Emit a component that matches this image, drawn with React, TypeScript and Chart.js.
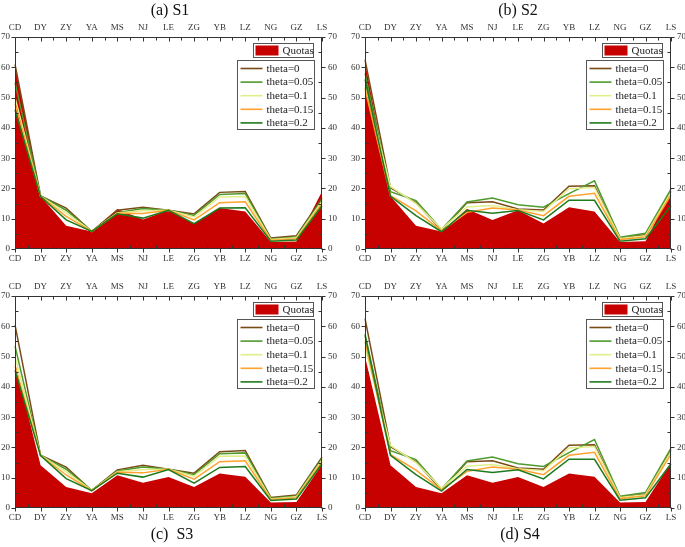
import React, { useEffect, useRef } from 'react';
import { Chart, registerables } from 'chart.js';
Chart.register(...registerables);

const categories = ['CD', 'DY', 'ZY', 'YA', 'MS', 'NJ', 'LE', 'ZG', 'YB', 'LZ', 'NG', 'GZ', 'LS'];
const thetaLabels = ['theta=0', 'theta=0.05', 'theta=0.1', 'theta=0.15', 'theta=0.2'];
const thetaColors = ['#7a4a16', '#4f9a2c', '#e2ee8a', '#ffa22e', '#1d7a1d'];
const quotaColor = '#c70000';
const yTicks = [0, 10, 20, 30, 40, 50, 60, 70];

// S1
const s1Quotas = [61, 17.4, 7.7, 5.8, 13.2, 9.7, 12.8, 8.4, 13.5, 12.4, 2.3, 2.5, 19];
const s1Theta0 = [61, 17.5, 13.5, 5.8, 12.8, 13.8, 12.8, 11.6, 18.7, 19.0, 3.6, 4.4, 16.8];
const s1Theta005 = [55, 17.5, 12.8, 5.8, 12.0, 13.4, 12.8, 11.1, 18.0, 18.3, 3.3, 4.0, 16.3];
const s1Theta01 = [50, 17.4, 11.9, 5.8, 11.9, 12.6, 12.8, 10.6, 17.2, 17.3, 3.1, 3.7, 15.7];
const s1Theta015 = [48, 17.4, 10.8, 5.8, 11.8, 11.7, 12.8, 9.6, 15.3, 15.6, 2.9, 3.4, 15.0];
const s1Theta02 = [46, 17.3, 9.6, 5.8, 11.6, 10.2, 12.8, 8.4, 13.5, 13.6, 2.6, 3.0, 14.3];

// S2
const s2Quotas = [62, 17.4, 7.7, 5.8, 13.2, 9.6, 12.8, 8.4, 13.8, 12.4, 2.3, 2.6, 19.2];
const s2Theta0 = [62.5, 20.2, 15.3, 6.2, 15.3, 15.6, 13.2, 12.9, 20.7, 20.9, 3.6, 4.7, 19.0];
const s2Theta005 = [58, 18.9, 16.0, 6.4, 15.5, 16.8, 14.6, 13.8, 18.3, 22.5, 3.9, 5.2, 19.8];
const s2Theta01 = [54, 20.6, 15.0, 6.6, 13.9, 14.4, 13.0, 12.4, 19.9, 20.3, 3.5, 4.4, 18.7];
const s2Theta015 = [53, 17.6, 12.6, 6.0, 12.1, 13.5, 12.9, 11.0, 17.4, 18.4, 3.1, 4.0, 17.9];
const s2Theta02 = [56, 17.4, 11.0, 5.7, 12.8, 11.8, 12.7, 9.6, 16.1, 16.1, 2.6, 3.4, 14.3];

// S3
const s3Quotas = [48, 14.1, 6.9, 4.9, 10.8, 8.3, 10.2, 6.9, 11.4, 10.3, 1.8, 2.0, 14.4];
const s3Theta0 = [60.5, 17.4, 13.5, 5.8, 12.6, 14.1, 12.8, 11.5, 18.6, 19.0, 3.5, 4.3, 16.8];
const s3Theta005 = [53.5, 17.4, 12.8, 5.8, 12.2, 13.5, 12.8, 11.0, 17.9, 18.2, 3.2, 4.0, 16.3];
const s3Theta01 = [50, 17.4, 11.9, 5.8, 12.0, 12.7, 12.8, 10.5, 17.1, 17.2, 3.0, 3.7, 15.8];
const s3Theta015 = [47, 17.3, 10.9, 5.7, 11.8, 11.6, 12.8, 9.5, 15.3, 15.6, 2.8, 3.4, 15.2];
const s3Theta02 = [45.5, 17.3, 9.7, 5.7, 11.5, 10.2, 12.7, 8.2, 13.4, 13.7, 2.5, 3.0, 14.6];

// S4
const s4Quotas = [50, 14.1, 6.9, 4.9, 10.8, 8.3, 10.2, 6.9, 11.4, 10.3, 1.8, 2.0, 15];
const s4Theta0 = [62.5, 20.2, 15.3, 6.0, 15.3, 15.6, 13.2, 12.8, 20.7, 20.9, 3.6, 4.6, 19.2];
const s4Theta005 = [57.5, 18.9, 16.0, 6.3, 15.5, 16.8, 14.6, 13.7, 18.3, 22.6, 3.9, 5.1, 19.8];
const s4Theta01 = [53, 20.6, 15.0, 6.5, 13.8, 14.4, 13.0, 12.3, 19.8, 20.3, 3.5, 4.4, 18.6];
const s4Theta015 = [55, 17.6, 12.5, 6.0, 12.1, 13.5, 12.8, 11.0, 17.4, 18.4, 3.1, 4.0, 17.8];
const s4Theta02 = [57, 17.4, 11.0, 5.6, 12.7, 11.7, 12.6, 9.6, 16.1, 16.1, 2.6, 3.4, 14.6];

const FONT = "'Liberation Serif', 'Times New Roman', serif";

const decorPlugin = {
  id: 'decor',
  afterDraw(chart: any) {
    const { ctx, chartArea: a } = chart;
    const ys = chart.scales.y;
    const xs = chart.scales.x;
    ctx.save();
    ctx.strokeStyle = '#333';
    ctx.lineWidth = 1;
    const L = Math.round(a.left) + 0.5;
    const R = Math.round(a.right) - 0.5;
    const T = Math.round(a.top) + 0.5;
    const B = Math.round(a.bottom) - 0.5;
    ctx.beginPath();
    ctx.rect(L, T, R - L, B - T);
    // y ticks
    for (let v = 0; v <= 70; v += 5) {
      const py = Math.round(ys.getPixelForValue(v)) + 0.5;
      if (v % 10 === 0) {
        ctx.moveTo(L, py); ctx.lineTo(L - 4, py);
        ctx.moveTo(R, py); ctx.lineTo(R + 4, py);
      } else {
        ctx.moveTo(L, py); ctx.lineTo(L + 3, py);
        ctx.moveTo(R, py); ctx.lineTo(R - 3, py);
      }
    }
    // x ticks
    for (let i = 0; i < categories.length; i++) {
      const px = Math.round(xs.getPixelForValue(i)) + 0.5;
      ctx.moveTo(px, T); ctx.lineTo(px, T + 4);
      ctx.moveTo(px, B); ctx.lineTo(px, B + 4);
      if (i < categories.length - 1) {
        const mx = Math.round((xs.getPixelForValue(i) + xs.getPixelForValue(i + 1)) / 2) + 0.5;
        ctx.moveTo(mx, T); ctx.lineTo(mx, T + 3);
        ctx.moveTo(mx, B); ctx.lineTo(mx, B - 3);
      }
    }
    ctx.stroke();

    // Legends
    ctx.font = `11px ${FONT}`;
    ctx.textBaseline = 'middle';
    ctx.textAlign = 'left';
    // Quotas box
    const qx = Math.round(a.right - 9 - 60) + 0.5;
    const qy = Math.round(a.top + 6) + 0.5;
    ctx.fillStyle = '#fff';
    ctx.fillRect(qx, qy, 60, 14);
    ctx.strokeStyle = '#555';
    ctx.strokeRect(qx, qy, 60, 14);
    ctx.fillStyle = quotaColor;
    ctx.fillRect(qx + 2, qy + 2, 23, 10);
    ctx.fillStyle = '#222';
    ctx.fillText('Quotas', qx + 29, qy + 7.5);
    // Theta box
    const bx = Math.round(a.right - 8 - 77) + 0.5;
    const by = Math.round(a.top + 23) + 0.5;
    ctx.fillStyle = '#fff';
    ctx.fillRect(bx, by, 77, 69);
    ctx.strokeStyle = '#555';
    ctx.strokeRect(bx, by, 77, 69);
    const ds = chart.data.datasets;
    for (let i = 0; i < thetaLabels.length; i++) {
      const cy = by + 8 + i * 13.6;
      ctx.strokeStyle = ds[i + 1].borderColor;
      ctx.lineWidth = 1.6;
      ctx.beginPath();
      ctx.moveTo(bx + 3, cy);
      ctx.lineTo(bx + 25, cy);
      ctx.stroke();
      ctx.fillStyle = '#222';
      ctx.fillText(ds[i + 1].label, bx + 29, cy + 0.5);
    }
    ctx.restore();
  },
};

type PanelProps = {
  quotas: number[];
  thetas: number[][];
  left: number;
  top: number;
  width: number;
  height: number;
  topH: number;
  bottomH: number;
  leftW: number;
  rightW: number;
};

function Panel(p: PanelProps) {
  const ref = useRef<HTMLCanvasElement | null>(null);
  useEffect(() => {
    if (!ref.current) return;
    const tickFont = { family: FONT, size: 9 };
    const datasets: any[] = [
      {
        label: 'Quotas',
        data: p.quotas,
        backgroundColor: quotaColor,
        borderColor: quotaColor,
        borderWidth: 0,
        fill: 'origin',
        pointRadius: 0,
        tension: 0,
        order: 10,
        xAxisID: 'x',
        yAxisID: 'y',
      },
      ...p.thetas.map((d, i) => ({
        label: thetaLabels[i],
        data: d,
        borderColor: thetaColors[i],
        backgroundColor: thetaColors[i],
        borderWidth: 1.5,
        fill: false,
        pointRadius: 0,
        tension: 0,
        order: 5 - i,
        xAxisID: 'x',
        yAxisID: 'y',
      })),
    ];
    const chart = new Chart(ref.current, {
      type: 'line',
      data: { labels: categories, datasets },
      options: {
        responsive: false,
        animation: false,
        devicePixelRatio: 1,
        layout: { padding: 0 },
        plugins: { legend: { display: false }, tooltip: { enabled: false }, title: { display: false } },
        scales: {
          x: {
            type: 'category',
            position: 'bottom',
            offset: false,
            grid: { display: false, drawTicks: false },
            border: { display: false },
            ticks: { font: tickFont, color: '#333', padding: 4, maxRotation: 0, autoSkip: false },
            afterFit: (s: any) => { s.height = p.bottomH; },
          },
          x2: {
            type: 'category',
            position: 'top',
            labels: categories,
            offset: false,
            grid: { display: false, drawTicks: false },
            border: { display: false },
            ticks: { font: tickFont, color: '#333', padding: 4, maxRotation: 0, autoSkip: false },
            afterFit: (s: any) => { s.height = p.topH; },
          },
          y: {
            type: 'linear',
            position: 'left',
            min: 0,
            max: 70,
            grid: { display: false, drawTicks: false },
            border: { display: false },
            ticks: { font: tickFont, color: '#333', padding: 5, stepSize: 10 },
            afterBuildTicks: (s: any) => { s.ticks = yTicks.map((v) => ({ value: v })); },
            afterFit: (s: any) => { s.width = p.leftW; },
          },
          y2: {
            type: 'linear',
            position: 'right',
            min: 0,
            max: 70,
            grid: { display: false, drawTicks: false },
            border: { display: false },
            ticks: { font: tickFont, color: '#333', padding: 6, stepSize: 10 },
            afterBuildTicks: (s: any) => { s.ticks = yTicks.map((v) => ({ value: v })); },
            afterFit: (s: any) => { s.width = p.rightW; },
          },
        },
      } as any,
      plugins: [decorPlugin],
    });
    return () => chart.destroy();
  }, []);
  return (
    <canvas
      ref={ref}
      width={p.width}
      height={p.height}
      style={{ position: 'absolute', left: p.left, top: p.top, width: p.width, height: p.height }}
    />
  );
}

const titleStyle = (x: number, y: number): React.CSSProperties => ({
  position: 'absolute',
  left: x,
  top: y,
  transform: 'translate(-50%, -50%)',
  fontFamily: FONT,
  fontSize: 16,
  color: '#111',
  whiteSpace: 'pre',
  lineHeight: 1,
});

export default function App() {
  return (
    <div style={{ position: 'absolute', left: 0, top: 0, width: 685, height: 547, background: '#fff', overflow: 'hidden' }}>
      <Panel quotas={s1Quotas} thetas={[s1Theta0, s1Theta005, s1Theta01, s1Theta015, s1Theta02]}
        left={0} top={0} width={342} height={270} topH={37} bottomH={21} leftW={15} rightW={20} />
      <Panel quotas={s2Quotas} thetas={[s2Theta0, s2Theta005, s2Theta01, s2Theta015, s2Theta02]}
        left={342} top={0} width={343} height={270} topH={37} bottomH={21} leftW={23} rightW={14} />
      <Panel quotas={s3Quotas} thetas={[s3Theta0, s3Theta005, s3Theta01, s3Theta015, s3Theta02]}
        left={0} top={270} width={342} height={277} topH={26} bottomH={39} leftW={15} rightW={20} />
      <Panel quotas={s4Quotas} thetas={[s4Theta0, s4Theta005, s4Theta01, s4Theta015, s4Theta02]}
        left={342} top={270} width={343} height={277} topH={26} bottomH={39} leftW={23} rightW={14} />
      <div style={titleStyle(170, 10)}>(a) S1</div>
      <div style={titleStyle(518, 10)}>(b) S2</div>
      <div style={titleStyle(172, 534)}>(c)  S3</div>
      <div style={titleStyle(520, 534)}>(d) S4</div>
    </div>
  );
}
